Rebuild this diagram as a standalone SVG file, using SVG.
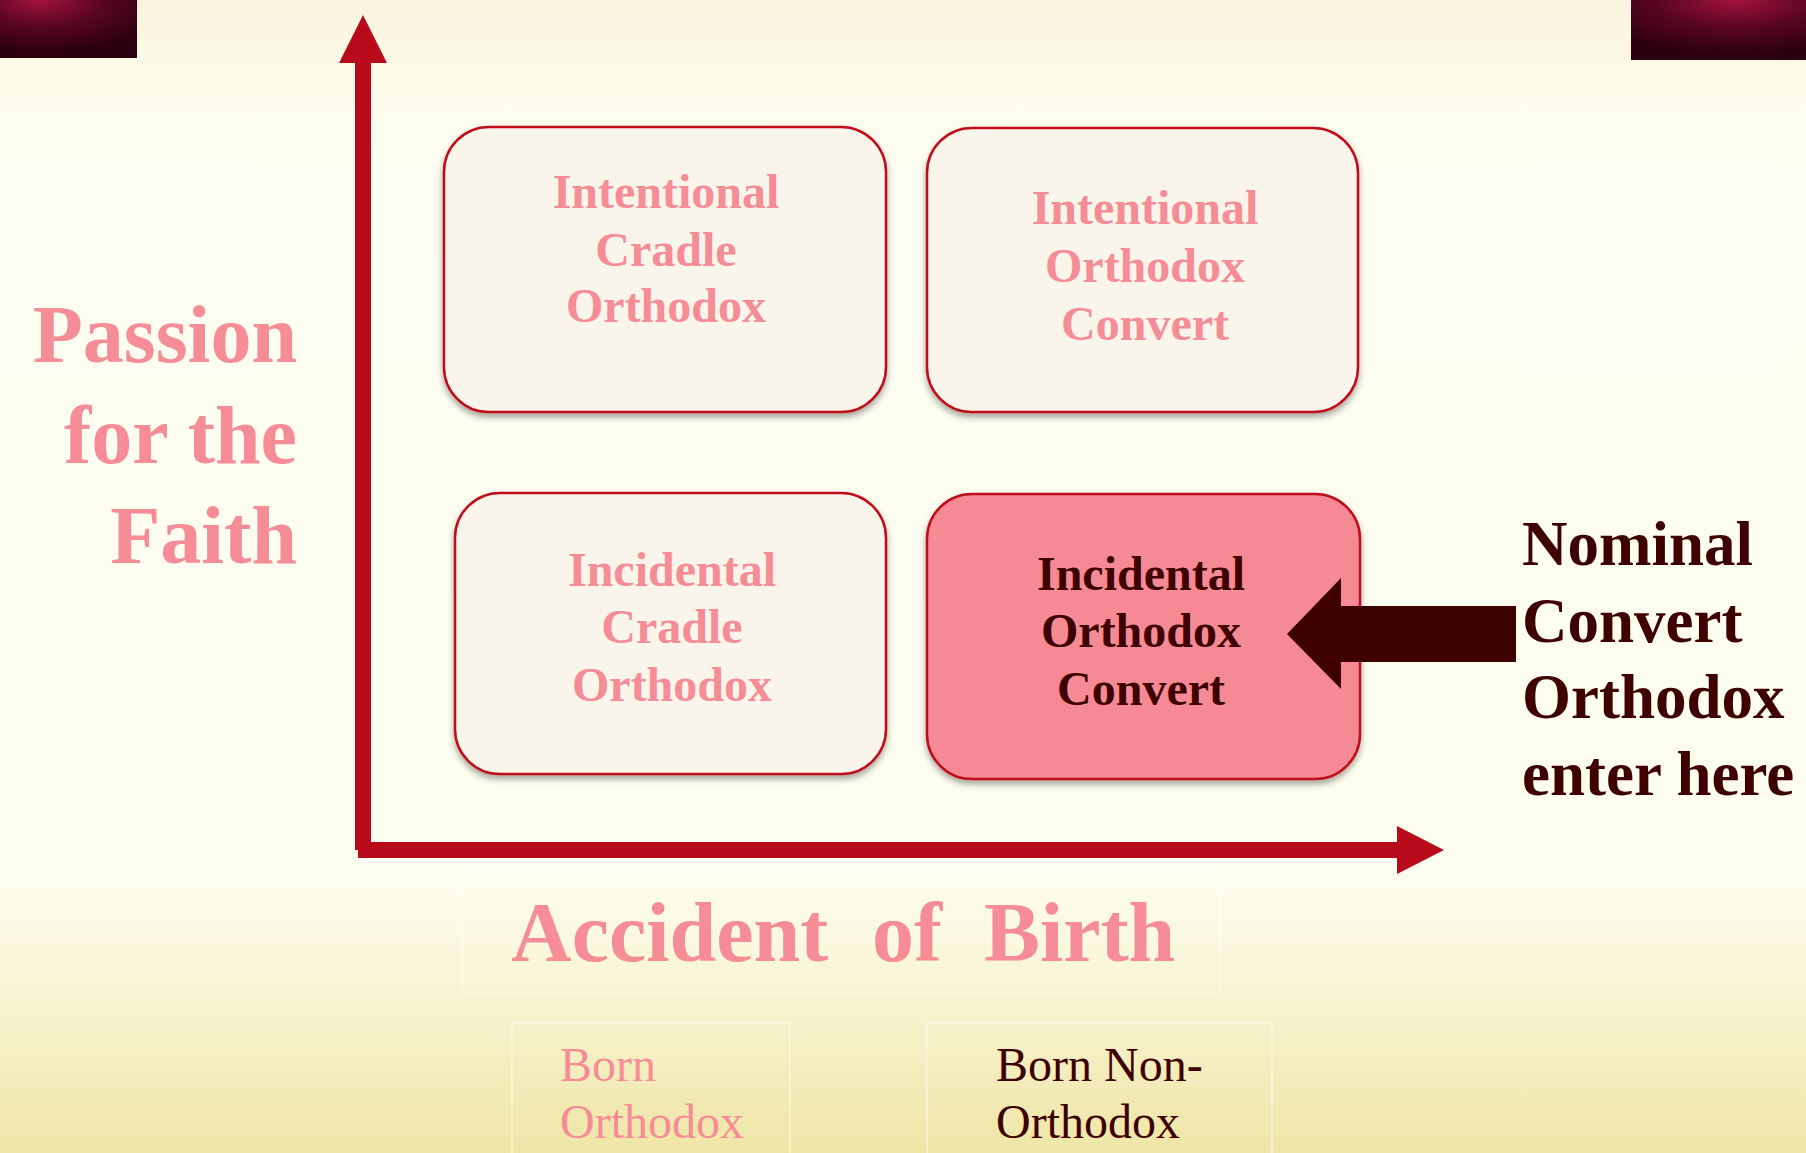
<svg xmlns="http://www.w3.org/2000/svg" width="1806" height="1153" viewBox="0 0 1806 1153">
  <defs>
    <linearGradient id="bg" x1="0" y1="0" x2="0" y2="1">
      <stop offset="0" stop-color="#f8f3dc"/>
      <stop offset="0.07" stop-color="#fcfbea"/>
      <stop offset="0.15" stop-color="#fdfef1"/>
      <stop offset="0.76" stop-color="#fdfdef"/>
      <stop offset="0.86" stop-color="#f8f4d2"/>
      <stop offset="1" stop-color="#efe5a6"/>
    </linearGradient>
    <radialGradient id="corner" cx="0.3" cy="0" r="0.9" fx="0.3" fy="0">
      <stop offset="0" stop-color="#a3123f"/>
      <stop offset="0.5" stop-color="#5a0520"/>
      <stop offset="1" stop-color="#2c0010"/>
    </radialGradient>
    <radialGradient id="corner2" cx="0.6" cy="0" r="0.9" fx="0.6" fy="0">
      <stop offset="0" stop-color="#a3123f"/>
      <stop offset="0.5" stop-color="#5a0520"/>
      <stop offset="1" stop-color="#2c0010"/>
    </radialGradient>
    <filter id="shadow" x="-10%" y="-10%" width="120%" height="125%">
      <feDropShadow dx="0" dy="4" stdDeviation="3" flood-color="#000" flood-opacity="0.35"/>
    </filter>
    <style>
      .box { fill: #f9f5ea; stroke: #c0101e; stroke-width: 2.5; filter: url(#shadow); }
      .box.hot { fill: #f68a94; }
      .lbl { font-family: "Liberation Serif", "Times New Roman", serif; font-weight: bold; font-size: 48px; text-anchor: middle; }
      .pink { fill: #f68c96; }
      .dark { fill: #3f0000; }
      .axis { fill: #b90a1c; }
      .big { font-family: "Liberation Serif", "Times New Roman", serif; font-weight: bold; }
      .reg { font-family: "Liberation Serif", "Times New Roman", serif; font-size: 48px; }
      .faint { fill: none; stroke: #ffffff; stroke-opacity: 0.7; stroke-width: 1.2; }
    </style>
  </defs>

  <rect x="0" y="0" width="1806" height="1153" fill="url(#bg)"/>
  <rect x="0" y="0" width="137" height="58" fill="url(#corner)"/>
  <rect x="1631" y="0" width="175" height="60" fill="url(#corner2)"/>

  <g id="connectors">
    <rect class="axis" x="355" y="60" width="16" height="790"/>
    <polygon class="axis" points="363,15 387,63 339,63"/>
    <rect class="axis" x="358" y="842" width="1042" height="16"/>
    <polygon class="axis" points="1444,850 1397,826 1397,874"/>
  </g>

  <g id="node-intentional-cradle">
    <rect class="box" x="444" y="127" width="442" height="285" rx="45" ry="45"/>
    <text class="lbl pink" x="666" y="208">Intentional</text>
    <text class="lbl pink" x="666" y="266">Cradle</text>
    <text class="lbl pink" x="666" y="322">Orthodox</text>
  </g>

  <g id="node-intentional-convert">
    <rect class="box" x="927" y="128" width="431" height="284" rx="45" ry="45"/>
    <text class="lbl pink" x="1145" y="224">Intentional</text>
    <text class="lbl pink" x="1145" y="282">Orthodox</text>
    <text class="lbl pink" x="1145" y="340">Convert</text>
  </g>

  <g id="node-incidental-cradle">
    <rect class="box" x="455" y="493" width="431" height="281" rx="45" ry="45"/>
    <text class="lbl pink" x="672" y="586">Incidental</text>
    <text class="lbl pink" x="672" y="643">Cradle</text>
    <text class="lbl pink" x="672" y="701">Orthodox</text>
  </g>

  <g id="node-incidental-convert">
    <rect class="box hot" x="927" y="494" width="433" height="285" rx="45" ry="45"/>
    <text class="lbl dark" x="1141" y="590">Incidental</text>
    <text class="lbl dark" x="1141" y="647">Orthodox</text>
    <text class="lbl dark" x="1141" y="705">Convert</text>
  </g>

  <g id="entry-arrow">
    <polygon class="dark" points="1287,634 1341,578 1341,606 1516,606 1516,662 1341,662 1341,689"/>
  </g>

  <g id="label-nominal">
    <text class="big dark" font-size="63" x="1522" y="565">Nominal</text>
    <text class="big dark" font-size="63" x="1522" y="642">Convert</text>
    <text class="big dark" font-size="63" x="1522" y="718">Orthodox</text>
    <text class="big dark" font-size="63" x="1522" y="795">enter here</text>
  </g>

  <g id="label-passion">
    <text class="big pink" font-size="82" text-anchor="end" x="297" y="362">Passion</text>
    <text class="big pink" font-size="82" text-anchor="end" x="297" y="463">for the</text>
    <text class="big pink" font-size="82" text-anchor="end" x="297" y="563">Faith</text>
  </g>

  <g id="label-accident">
    <rect class="faint" x="462" y="869" width="758" height="123"/>
    <text class="big pink" font-size="84" y="961"><tspan x="511">Accident</tspan><tspan x="872">of</tspan><tspan x="984">Birth</tspan></text>
  </g>

  <g id="label-born-orthodox">
    <rect class="faint" x="512" y="1023" width="278" height="140"/>
    <text class="reg pink" x="560" y="1081">Born</text>
    <text class="reg pink" x="560" y="1138">Orthodox</text>
  </g>

  <g id="label-born-non-orthodox">
    <rect class="faint" x="927" y="1023" width="345" height="140"/>
    <text class="reg dark" x="996" y="1081">Born Non-</text>
    <text class="reg dark" x="996" y="1138">Orthodox</text>
  </g>
</svg>
